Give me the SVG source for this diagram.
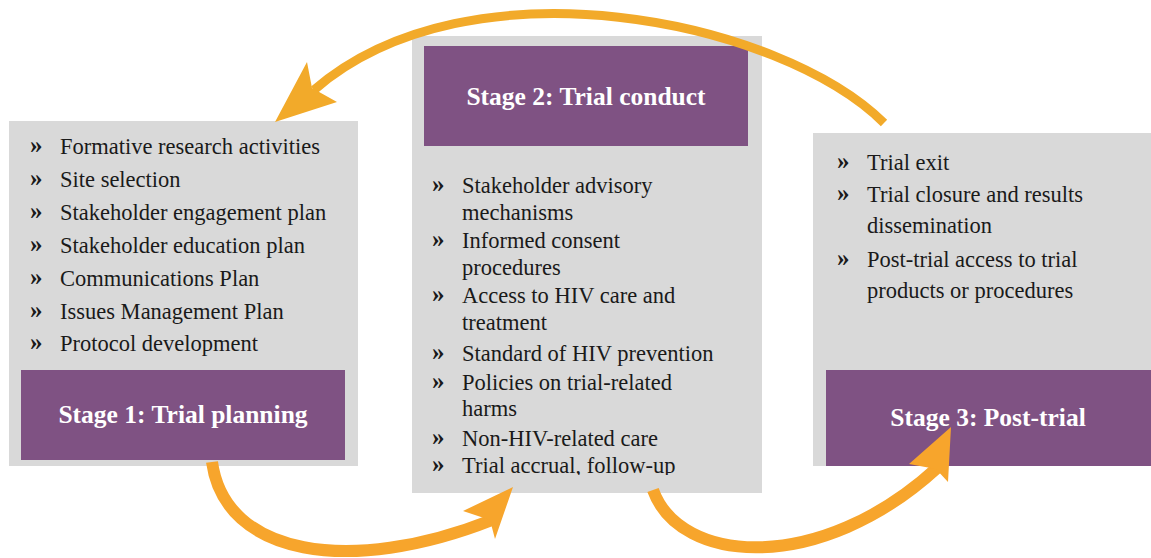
<svg xmlns="http://www.w3.org/2000/svg" width="1151" height="558" viewBox="0 0 1151 558">
<style>
.bg{fill:#D9D9D9}
.hd{fill:#7F5283}
.t{font-family:"Liberation Serif",serif;font-size:22.5px;fill:#1A1A1A}
.b{font-family:"Liberation Serif",serif;font-size:25px;font-weight:bold;fill:#1A1A1A}
.h{font-family:"Liberation Serif",serif;font-size:25.5px;font-weight:bold;fill:#FFFFFF;text-anchor:middle}
.arr{fill:none;stroke-linecap:butt}
</style>
<defs>
<clipPath id="c2"><rect x="412" y="36" width="350" height="439"/></clipPath>
</defs>
<rect width="1151" height="558" fill="#FFFFFF"/>
<g id="stage1">
<rect class="bg" x="9" y="121" width="349" height="345"/>
<rect class="hd" x="21" y="370" width="324" height="90"/>
<text class="h" x="183" y="423">Stage 1: Trial planning</text>
<text class="b" x="30" y="153">»</text><text class="t" x="60" y="154">Formative research activities</text>
<text class="b" x="30" y="186">»</text><text class="t" x="60" y="187">Site selection</text>
<text class="b" x="30" y="219">»</text><text class="t" x="60" y="220">Stakeholder engagement plan</text>
<text class="b" x="30" y="252">»</text><text class="t" x="60" y="253">Stakeholder education plan</text>
<text class="b" x="30" y="285">»</text><text class="t" x="60" y="286">Communications Plan</text>
<text class="b" x="30" y="318">»</text><text class="t" x="60" y="319">Issues Management Plan</text>
<text class="b" x="30" y="350">»</text><text class="t" x="60" y="351">Protocol development</text>
</g>
<g id="stage2">
<rect class="bg" x="412" y="36" width="350" height="457"/>
<rect class="hd" x="424" y="46" width="324" height="100"/>
<text class="h" x="586" y="105">Stage 2: Trial conduct</text>
<g clip-path="url(#c2)">
<text class="b" x="432" y="192">»</text><text class="t" x="462" y="193">Stakeholder advisory</text>
<text class="t" x="462" y="220">mechanisms</text>
<text class="b" x="432" y="247">»</text><text class="t" x="462" y="248">Informed consent</text>
<text class="t" x="462" y="275">procedures</text>
<text class="b" x="432" y="302">»</text><text class="t" x="462" y="303">Access to HIV care and</text>
<text class="t" x="462" y="330">treatment</text>
<text class="b" x="432" y="360">»</text><text class="t" x="462" y="361">Standard of HIV prevention</text>
<text class="b" x="432" y="389">»</text><text class="t" x="462" y="390">Policies on trial-related</text>
<text class="t" x="462" y="416">harms</text>
<text class="b" x="432" y="445">»</text><text class="t" x="462" y="446">Non-HIV-related care</text>
<text class="b" x="432" y="472">»</text><text class="t" x="462" y="473">Trial accrual, follow-up</text>
</g>
</g>
<g id="stage3">
<rect class="bg" x="813" y="133" width="338" height="333"/>
<rect class="hd" x="826" y="370" width="325" height="96"/>
<text class="h" x="988" y="426">Stage 3: Post-trial</text>
<text class="b" x="837" y="169">»</text><text class="t" x="867" y="170">Trial exit</text>
<text class="b" x="837" y="201">»</text><text class="t" x="867" y="202">Trial closure and results</text>
<text class="t" x="867" y="233">dissemination</text>
<text class="b" x="837" y="266">»</text><text class="t" x="867" y="267">Post-trial access to trial</text>
<text class="t" x="867" y="298">products or procedures</text>
</g>
<g id="connectors">
<path class="arr" d="M884,123 C780,20 470,-45 314,90" stroke="#F2AA2A" stroke-width="9"/>
<polygon points="275,122 307,62 312,88 337,102" fill="#F2AA2A"/>
<path class="arr" d="M212,462 C225,556 350,576 492,520" stroke="#F7A52C" stroke-width="12"/>
<polygon points="513,487 463,511 490,520 495,539" fill="#F7A52C"/>
<path class="arr" d="M653,490 C680,565 820,575 937,468" stroke="#F7A52C" stroke-width="12"/>
<polygon points="951,427 909,464 936,469 948,482" fill="#F7A52C"/>
</g>
</svg>
